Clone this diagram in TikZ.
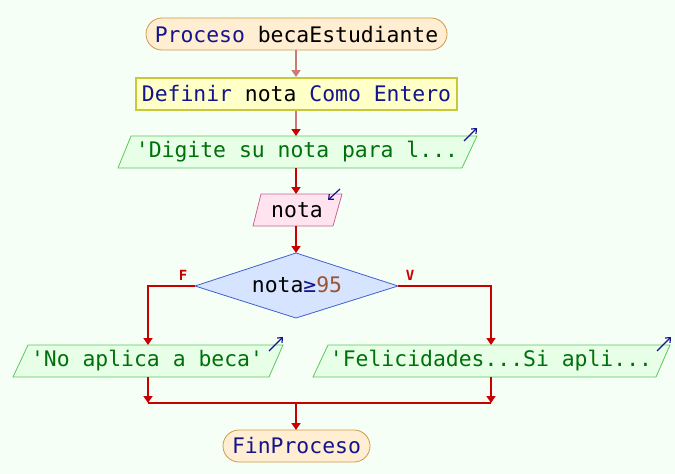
\documentclass[tikz,border=0pt]{standalone}
\usepackage{fontspec}
\setmainfont{DejaVu Sans Mono}
\usetikzlibrary{arrows.meta,shapes.geometric,calc}
\definecolor{bg}{HTML}{F5FFF5}
\definecolor{kw}{HTML}{14148C}
\definecolor{str}{HTML}{00700A}
\definecolor{num}{HTML}{A0522D}
\definecolor{flow}{HTML}{C80000}
\definecolor{flowlt}{HTML}{D07878}
\definecolor{termfill}{HTML}{FFEED2}
\definecolor{termdraw}{HTML}{D09A48}
\definecolor{deffill}{HTML}{FFFFC8}
\definecolor{defdraw}{HTML}{C8C83C}
\definecolor{outfill}{HTML}{E6FFE6}
\definecolor{outdraw}{HTML}{5AC85A}
\definecolor{infill}{HTML}{FFE4F0}
\definecolor{indraw}{HTML}{C8649B}
\definecolor{decfill}{HTML}{D6E4FF}
\definecolor{decdraw}{HTML}{4060D0}
\tikzset{
  txt/.style={font=\fontsize{21.4}{24}\selectfont, inner sep=0pt},
  terminal/.style={draw=termdraw, fill=termfill, rounded corners=16pt, line width=0.8pt},
  defbox/.style={draw=defdraw, fill=deffill, line width=1.5pt},
  outbox/.style={draw=outdraw, fill=outfill, line width=0.8pt},
  inbox/.style={draw=indraw, fill=infill, line width=0.8pt},
  decbox/.style={draw=decdraw, fill=decfill, line width=0.8pt},
  conn/.style={draw=flow, line width=1.8pt},
  arr/.style={conn, -{Triangle[width=9pt,length=7pt]}},
  icon/.style={draw=kw, line width=1.2pt, -{Straight Barb[length=4pt,width=7pt]}},
  lbl/.style={text=flow, font=\fontsize{14}{16}\bfseries\selectfont, inner sep=0pt}
}
\begin{document}
\begin{tikzpicture}[x=1pt,y=-1pt]
\fill[bg] (0,0) rectangle (675,474);
\useasboundingbox (0,0) rectangle (675,474);

% Start
\draw[terminal] (146,18) rectangle (447,50);
\node[txt] (start) at (296.5,34.5) {\textcolor{kw}{Proceso} becaEstudiante};
\coordinate (startb) at (296,50);

% Definir
\draw[defbox] (136,78) rectangle (457,110);
\node[txt] (def) at (296.5,94) {\textcolor{kw}{Definir} nota \textcolor{kw}{Como Entero}};
\coordinate (deft) at (296,77);
\coordinate (defb) at (296,111);

% Digite
\draw[outbox] (131,136) -- (477,136) -- (462,168) -- (118,168) -- cycle;
\node[txt,text=str] (dig) at (297,152) {\textquotesingle Digite su nota para l...};
\coordinate (digt) at (296,136);
\coordinate (digb) at (296,168);
\coordinate (dig1) at (464,141);
\coordinate (dig2) at (477,128);
\draw[icon] (dig1) -- (dig2);

% nota input
\draw[inbox] (261,194) -- (342,194) -- (333,226) -- (253,226) -- cycle;
\node[txt] (nota) at (297,210) {nota};
\coordinate (notat) at (296,194);
\coordinate (notab) at (296,226);
\coordinate (ni1) at (340,189);
\coordinate (ni2) at (328,200);
\draw[icon] (ni1) -- (ni2);

% Decision
\draw[decbox] (296,253) -- (398,286) -- (296,318) -- (195,286) -- cycle;
\node[txt] (cond) at (297,285) {nota\textcolor{kw}{≥}\textcolor{num}{95}};
\coordinate (dect) at (296,253);
\coordinate (decl) at (195,286);
\coordinate (decr) at (398,286);
\node[lbl] (F) at (183,275) {F};
\node[lbl] (V) at (410,275) {V};

% Left output
\draw[outbox] (28,345) -- (283,345) -- (269,377) -- (13,377) -- cycle;
\node[txt,text=str] (no) at (147,361) {\textquotesingle No aplica a beca\textquotesingle};
\coordinate (lt) at (148,345);
\coordinate (lb) at (148,377);
\draw[icon] (269,351) -- (283,337);

% Right output
\draw[outbox] (328,345) -- (670,345) -- (656,377) -- (313,377) -- cycle;
\node[txt,text=str] (si) at (491,361) {\textquotesingle Felicidades...Si apli...};
\coordinate (rt) at (491,345);
\coordinate (rb) at (491,377);
\draw[icon] (657,351) -- (671,337);

% join
\coordinate (jl) at (148,403);
\coordinate (jr) at (491,403);
\coordinate (jm) at (296,403);

% End
\draw[terminal] (223,430) rectangle (370,462);
\node[txt,text=kw] (fin) at (296.5,446) {FinProceso};
\coordinate (fint) at (296,430);

% connectors
\draw[conn,draw=flowlt,-{Triangle[width=9pt,length=7pt]}] (startb) -- (deft);
\draw[conn,draw=flowlt] (defb) -- ($(digt)+(0,-7)$);
\draw[arr] ($(digt)+(0,-7.5)$) -- (digt);
\draw[arr] (digb) -- (notat);
\draw[arr] (notab) -- (dect);
\draw[arr] (decl) -| (lt);
\draw[arr] (decr) -| (rt);
\draw[arr] (lb) -- (jl);
\draw[arr] (rb) -- (jr);
\draw[conn] (jl) -- (jr);
\draw[arr] (jm) -- (fint);
\end{tikzpicture}
\end{document}
